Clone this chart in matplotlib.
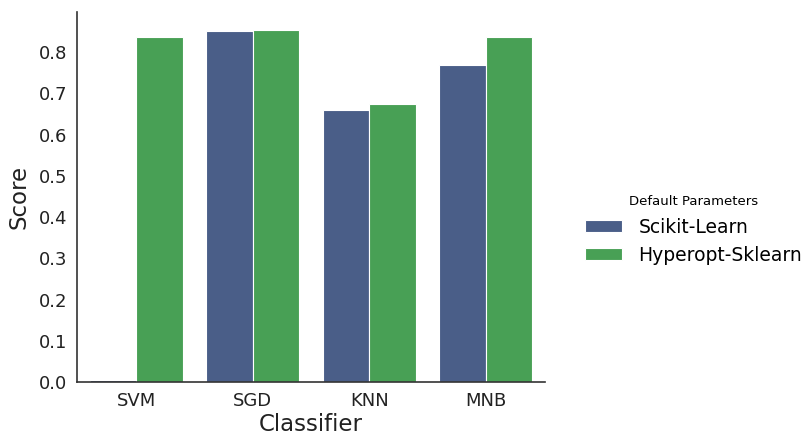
import numpy as np
import matplotlib
matplotlib.use("Agg")
import matplotlib.pyplot as plt

classifiers = ["SVM", "SGD", "KNN", "MNB"]
sklearn_scores = [0.006, 0.851, 0.661, 0.769]
hyperopt_scores = [0.838, 0.855, 0.675, 0.836]
series_names = ["Scikit-Learn", "Hyperopt-Sklearn"]
colors = ["#4a5e88", "#48a055"]

fig = plt.figure(figsize=(8.04, 4.34), dpi=100)
ax = fig.add_axes([0.0958, 0.1198, 0.582, 0.853])

x = np.arange(len(classifiers))
w = 0.4
for i, (vals, name) in enumerate(zip([sklearn_scores, hyperopt_scores], series_names)):
    ax.bar(x + (i - 0.5) * w, vals, width=w, color=colors[i], edgecolor="white",
           linewidth=0.8, label=name)

ax.set_xlim(-0.51, 3.51)
ax.set_ylim(0, 0.898)
ax.set_yticks(np.arange(0, 0.81, 0.1))
ax.set_xticks(x)
ax.set_xticklabels(classifiers)
ax.tick_params(labelsize=13, length=0, pad=7, colors="#222222")
ax.set_xlabel("Classifier", fontsize=16.5, color="#222222", labelpad=2)
ax.set_ylabel("Score", fontsize=16.5, color="#222222", labelpad=6)
for s in ["top", "right"]:
    ax.spines[s].set_visible(False)
for s in ["left", "bottom"]:
    ax.spines[s].set_color("#333333")
    ax.spines[s].set_linewidth(1.2)

leg = fig.legend(loc="center left", bbox_to_anchor=(0.7065, 0.47), frameon=False,
                 fontsize=13.5, title="Default Parameters", title_fontsize=9.5,
                 handlelength=2.0, handleheight=0.6, handletextpad=0.85,
                 labelspacing=0.5)
fig.savefig("out.png", dpi=100, facecolor="white")
